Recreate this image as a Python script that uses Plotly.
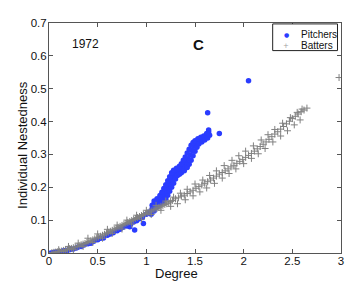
import plotly.graph_objects as go

# Pitchers (Degree, Individual Nestedness)
pitcher_x = [0.02, 0.04, 0.06, 0.08, 0.10, 0.12, 0.14, 0.16, 0.18, 0.20, 0.21, 0.22, 0.25, 0.28, 0.30,
             0.33, 0.36, 0.40, 0.43, 0.46, 0.50, 0.53, 0.56, 0.60, 0.63, 0.66, 0.70, 0.73, 0.76,
             0.80, 0.83, 0.84, 0.87, 0.88, 0.90, 0.93, 0.96, 0.97,
             1.00, 1.03, 1.06, 1.08, 1.10, 1.12, 1.14, 1.16, 1.18, 1.20, 1.22, 1.24, 1.26, 1.28, 1.29,
             1.31, 1.33, 1.35, 1.37, 1.39, 1.41, 1.43, 1.45, 1.47, 1.49, 1.51, 1.53, 1.55, 1.57, 1.59,
             1.61, 1.63, 1.64, 1.64,
             1.06, 1.08, 1.11, 1.14, 1.16, 1.18, 1.20, 1.22, 1.24, 1.26, 1.28, 1.31, 1.34, 1.36, 1.38,
             1.40, 1.42, 1.44, 1.46, 1.48, 1.50, 1.53, 1.56, 1.59, 1.62,
             1.05, 1.08, 1.11, 1.14, 1.17, 1.20, 1.22, 1.24, 1.26, 1.28, 1.30, 1.32, 1.34, 1.36, 1.39,
             1.42, 1.44, 1.46, 1.48, 1.50, 1.52, 1.54, 1.57, 1.60, 1.63, 1.65,
             1.63, 1.75, 2.05]
pitcher_y = [0.000, 0.001, 0.002, 0.002, 0.004, 0.004, 0.006, 0.007, 0.006, 0.010, 0.014, 0.011, 0.012, 0.015, 0.018,
             0.020, 0.024, 0.028, 0.030, 0.036, 0.040, 0.045, 0.046, 0.054, 0.058, 0.062, 0.068, 0.072, 0.078,
             0.082, 0.080, 0.088, 0.095, 0.070, 0.098, 0.104, 0.108, 0.090,
             0.118, 0.125, 0.135, 0.150, 0.152, 0.155, 0.158, 0.165, 0.175, 0.186, 0.198, 0.210, 0.222, 0.235, 0.245,
             0.248, 0.250, 0.252, 0.258, 0.266, 0.276, 0.286, 0.298, 0.312, 0.325, 0.334, 0.340, 0.344, 0.347, 0.350,
             0.354, 0.360, 0.368, 0.374,
             0.145, 0.158, 0.165, 0.175, 0.185, 0.196, 0.208, 0.220, 0.232, 0.244, 0.252, 0.258, 0.264, 0.272, 0.282,
             0.292, 0.304, 0.316, 0.328, 0.336, 0.342, 0.348, 0.352, 0.356, 0.364,
             0.118, 0.128, 0.140, 0.148, 0.155, 0.166, 0.176, 0.188, 0.200, 0.212, 0.225, 0.236, 0.240, 0.244, 0.250,
             0.260, 0.270, 0.282, 0.296, 0.310, 0.322, 0.332, 0.338, 0.344, 0.350, 0.358,
             0.427, 0.364, 0.524]

# Batters (Degree, Individual Nestedness)
batter_x = [0.03, 0.05, 0.07, 0.09, 0.11, 0.13, 0.15, 0.17, 0.19, 0.21, 0.23, 0.25, 0.27, 0.29, 0.31,
            0.33, 0.35, 0.37, 0.39, 0.41, 0.43, 0.45, 0.47, 0.49, 0.51, 0.53, 0.55, 0.57, 0.59, 0.61,
            0.63, 0.65, 0.67, 0.69, 0.71, 0.73, 0.75, 0.77, 0.79, 0.81, 0.83, 0.85, 0.87, 0.89, 0.91,
            0.93, 0.95, 0.97, 0.99, 1.01, 1.03, 1.05, 1.07, 1.09, 1.11, 1.13, 1.15, 1.17, 1.19, 1.21,
            1.23, 1.25, 1.27, 1.30, 1.33, 1.36, 1.39, 1.42, 1.45, 1.48, 1.51, 1.54, 1.57, 1.60, 1.63,
            1.66, 1.69, 1.72, 1.75, 1.78, 1.81, 1.84, 1.87, 1.90, 1.93, 1.96, 1.99, 2.02, 2.05, 2.08,
            2.11, 2.14, 2.17, 2.20, 2.23, 2.26, 2.29, 2.32, 2.35, 2.38, 2.41, 2.44, 2.47, 2.50, 2.53,
            2.56, 2.59, 2.62, 2.65,
            0.10, 0.20, 0.30, 0.40, 0.50, 0.60, 0.70, 0.80, 0.90, 1.00, 1.10, 1.20, 1.28, 1.35, 1.42,
            1.50, 1.58, 1.65, 1.72, 1.80, 1.88, 1.95, 2.02, 2.10, 2.18, 2.25, 2.32, 2.40, 2.48, 2.55, 2.60,
            0.15, 0.25, 0.35, 0.45, 0.55, 0.65, 0.75, 0.85, 0.95, 1.05, 1.15, 1.25, 1.32, 1.40, 1.48,
            1.55, 1.62, 1.70, 1.78, 1.85, 1.92, 2.00, 2.08, 2.15, 2.22, 2.30, 2.38, 2.45, 2.52, 2.58,
            2.98]
batter_y = [0.001, 0.002, 0.003, 0.004, 0.005, 0.006, 0.008, 0.009, 0.011, 0.013, 0.014, 0.016, 0.018, 0.020, 0.022,
            0.025, 0.027, 0.029, 0.032, 0.035, 0.037, 0.040, 0.043, 0.046, 0.048, 0.051, 0.054, 0.057, 0.060, 0.063,
            0.066, 0.069, 0.072, 0.075, 0.078, 0.081, 0.084, 0.087, 0.090, 0.093, 0.096, 0.099, 0.102, 0.105, 0.108,
            0.111, 0.114, 0.117, 0.120, 0.122, 0.125, 0.128, 0.131, 0.133, 0.136, 0.139, 0.142, 0.145, 0.148, 0.150,
            0.153, 0.157, 0.160, 0.165, 0.168, 0.173, 0.176, 0.181, 0.186, 0.191, 0.197, 0.202, 0.207, 0.212, 0.217,
            0.222, 0.228, 0.234, 0.240, 0.245, 0.250, 0.256, 0.262, 0.267, 0.273, 0.279, 0.285, 0.291, 0.297, 0.303,
            0.310, 0.317, 0.324, 0.331, 0.338, 0.346, 0.354, 0.362, 0.369, 0.377, 0.385, 0.393, 0.401, 0.409, 0.416,
            0.423, 0.430, 0.435, 0.441,
            0.010, 0.020, 0.030, 0.045, 0.058, 0.072, 0.085, 0.100, 0.115, 0.130, 0.145, 0.158, 0.170, 0.182, 0.194,
            0.210, 0.222, 0.236, 0.250, 0.266, 0.282, 0.296, 0.310, 0.326, 0.344, 0.360, 0.376, 0.395, 0.412, 0.428, 0.438,
            0.004, 0.010, 0.020, 0.032, 0.045, 0.060, 0.073, 0.088, 0.103, 0.117, 0.130, 0.142, 0.150, 0.162, 0.174,
            0.186, 0.198, 0.212, 0.228, 0.242, 0.256, 0.272, 0.288, 0.302, 0.318, 0.338, 0.356, 0.372, 0.390, 0.405,
            0.534]

x_ticks = [0, 0.5, 1, 1.5, 2, 2.5, 3]
x_tick_labels = ["0", "0.5", "1", "1.5", "2", "2.5", "3"]
y_ticks = [0, 0.1, 0.2, 0.3, 0.4, 0.5, 0.6, 0.7]
y_tick_labels = ["0", "0.1", "0.2", "0.3", "0.4", "0.5", "0.6", "0.7"]
series_names = ["Pitchers", "Batters"]

FONT = "Liberation Sans, Arial, sans-serif"
AXIS_COLOR = "#555555"
TEXT_COLOR = "#111111"
BLUE = "#2a3cff"
GRAY = "#808080"

fig = go.Figure()
fig.add_trace(go.Scatter(
    x=pitcher_x, y=pitcher_y, mode="markers", name=series_names[0],
    marker=dict(symbol="circle", size=5.5, color=BLUE, line=dict(width=0)),
))
fig.add_trace(go.Scatter(
    x=batter_x, y=batter_y, mode="markers", name=series_names[1],
    marker=dict(symbol="cross-thin", size=5, color=GRAY,
                line=dict(width=1, color=GRAY)),
))

axis_common = dict(
    showgrid=False, zeroline=False, showline=True, linecolor=AXIS_COLOR, linewidth=1,
    mirror="ticks", ticks="inside", ticklen=4, tickcolor=AXIS_COLOR, automargin=False,
    tickfont=dict(family=FONT, size=11.5, color=TEXT_COLOR),
)
fig.update_xaxes(range=[0, 3], tickvals=x_ticks, ticktext=x_tick_labels,
                 ticklabelstandoff=-3, **axis_common)
fig.update_yaxes(range=[0, 0.7], tickvals=y_ticks, ticktext=y_tick_labels,
                 ticklabelstandoff=-1, **axis_common)

# axis titles
fig.add_annotation(x=(176 - 49) / 292, y=-0.088, xref="paper", yref="paper", text="Degree",
                   showarrow=False, xanchor="center", yanchor="middle",
                   font=dict(family=FONT, size=13, color=TEXT_COLOR))
fig.add_annotation(x=-0.089, y=0.47, xref="paper", yref="paper", text="Individual Nestedness",
                   showarrow=False, textangle=-90, xanchor="center", yanchor="middle",
                   font=dict(family=FONT, size=13, color=TEXT_COLOR))

# panel labels
fig.add_annotation(x=0.378, y=0.636, xref="x", yref="y", text="1972", showarrow=False,
                   xanchor="center", yanchor="middle",
                   font=dict(family=FONT, size=12, color=TEXT_COLOR))
fig.add_annotation(x=1.54, y=0.636, xref="x", yref="y", text="<b>C</b>", showarrow=False,
                   xanchor="center", yanchor="middle",
                   font=dict(family=FONT, size=15, color=TEXT_COLOR))

# compact legend box
fig.add_shape(type="rect", xref="paper", yref="paper", x0=0.766, x1=0.988, y0=0.880, y1=0.996,
              line=dict(color="#222222", width=1), fillcolor="white", layer="above")
fig.add_annotation(x=0.813, y=0.950, xref="paper", yref="paper", text="●", showarrow=False,
                   xanchor="center", yanchor="middle",
                   font=dict(family="DejaVu Sans", size=6, color=BLUE))
fig.add_annotation(x=0.813, y=0.902, xref="paper", yref="paper", text="+", showarrow=False,
                   xanchor="center", yanchor="middle",
                   font=dict(family="DejaVu Sans", size=7, color="#a0a0a0"))
fig.add_annotation(x=0.857, y=0.950, xref="paper", yref="paper", text=series_names[0], showarrow=False,
                   xanchor="left", yanchor="middle", font=dict(family=FONT, size=10, color=TEXT_COLOR))
fig.add_annotation(x=0.857, y=0.902, xref="paper", yref="paper", text=series_names[1], showarrow=False,
                   xanchor="left", yanchor="middle", font=dict(family=FONT, size=10, color=TEXT_COLOR))

fig.update_layout(
    width=346, height=281,
    margin=dict(l=49, r=5, t=23, b=28),
    paper_bgcolor="white", plot_bgcolor="white",
    showlegend=False,
)

fig.write_html("out.html", config={"displayModeBar": False},
               post_script="document.body.style.margin='0px';document.body.style.overflow='hidden';")
